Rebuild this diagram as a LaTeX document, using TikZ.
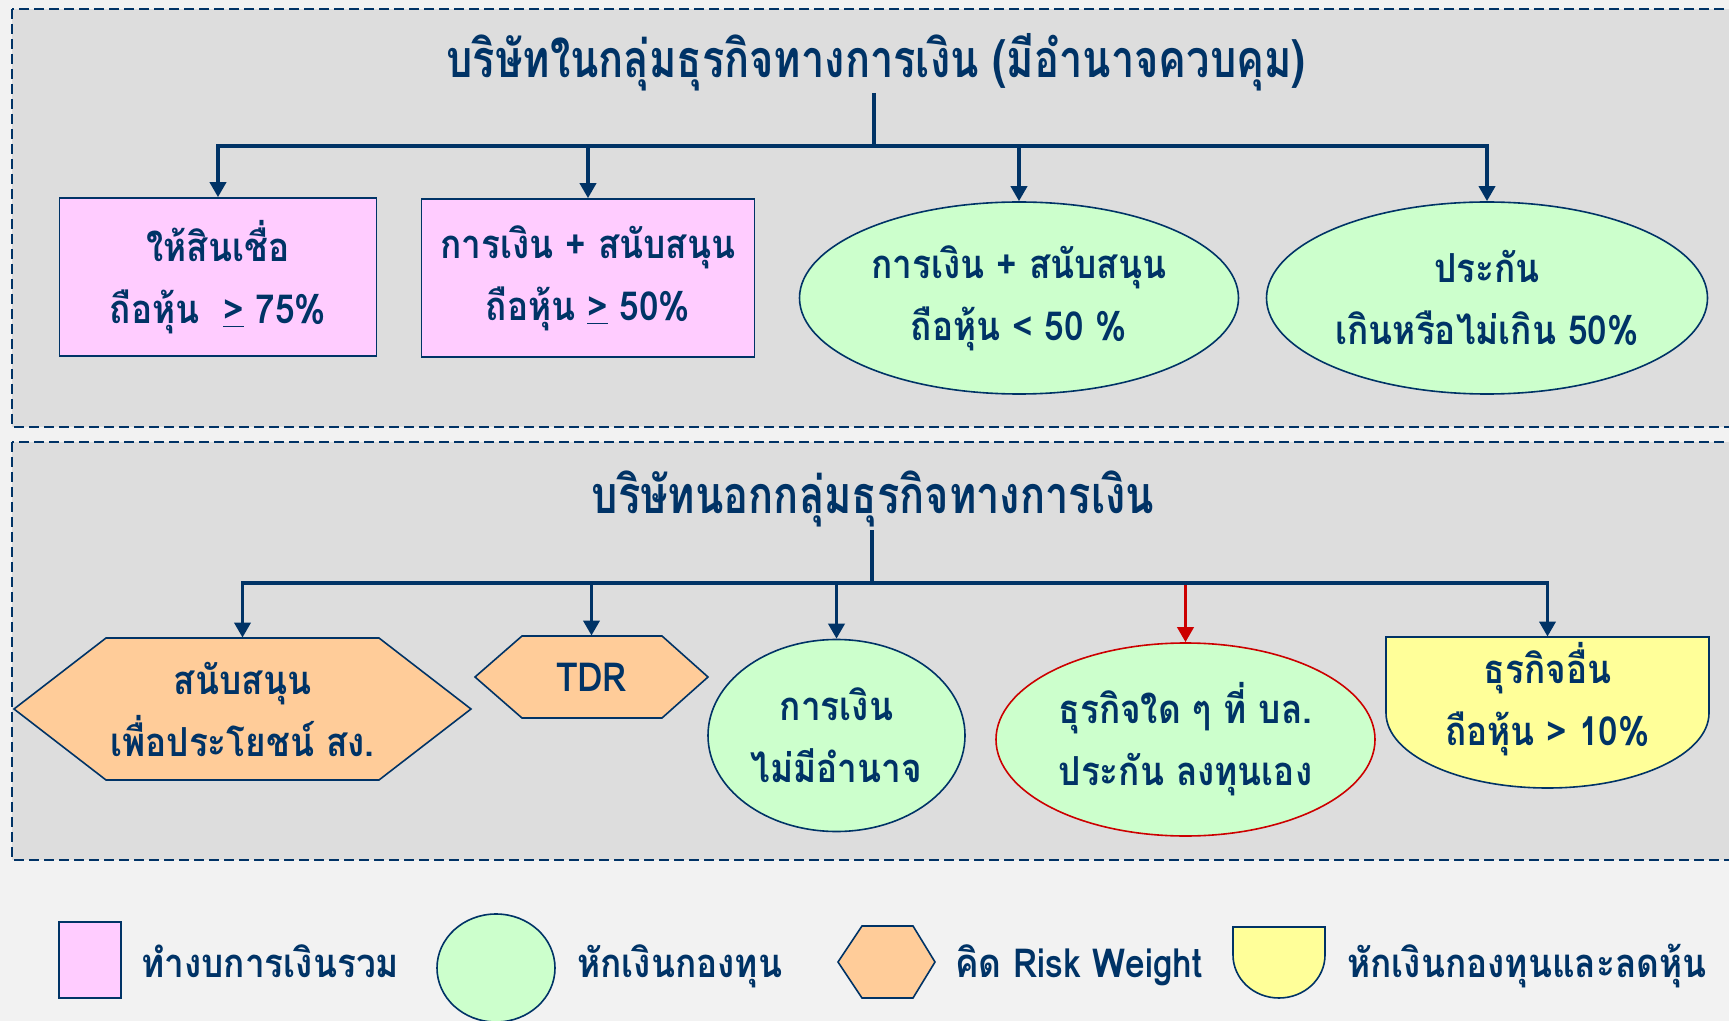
\documentclass[tikz,border=0pt]{standalone}
\usepackage{fontspec}
\setmainfont{Loma}[Script=Thai, FakeStretch=0.8]
\newfontfamily\nodefam{Loma}[Script=Thai, FakeStretch=0.88]
\usetikzlibrary{shapes.geometric, arrows.meta}
\definecolor{navy}{RGB}{0,51,102}
\definecolor{pinkc}{RGB}{255,204,255}
\definecolor{greenc}{RGB}{204,255,204}
\definecolor{orangec}{RGB}{255,204,153}
\definecolor{yellowc}{RGB}{255,255,153}
\definecolor{panelc}{RGB}{221,221,221}
\definecolor{bgc}{RGB}{242,242,242}
\definecolor{redc}{RGB}{204,0,0}
\newcommand\nfnt{\nodefam\fontsize{20}{31}\selectfont\bfseries}
\newcommand\tfnt{\fontsize{26}{32}\selectfont\bfseries}
\tikzset{
  conn/.style={draw=navy, line width=1.8pt, -{Triangle[length=7.5pt,width=8pt]}},
  trunk/.style={draw=navy, line width=1.8pt},
  shp/.style={draw=navy, line width=0.8pt},
  bx/.style={shp, fill=pinkc, rectangle, inner sep=0pt, align=center, text=navy, font=\nfnt},
  ell/.style={shp, fill=greenc, ellipse, inner sep=0pt, align=center, text=navy, font=\nfnt},
  lbl/.style={text=navy, inner sep=0pt, align=center, font=\nfnt},
  ttl/.style={text=navy, inner sep=0pt, font=\tfnt, anchor=base},
  panel/.style={draw=navy, line width=1pt, dash pattern=on 5pt off 2.5pt, fill=panelc},
}
\begin{document}
\begin{tikzpicture}[x=0.5pt, y=-0.5pt]
\useasboundingbox (0,0) rectangle (1729,1021);
\clip (0,0) rectangle (1729,1021);
\fill[bgc] (0,0) rectangle (1729,1021);
% panels
\draw[panel] (12,9) rectangle (1740,427);
\draw[panel] (12,442) rectangle (1740,860);

% ---------- top section ----------
\node[ttl] (t1) at (876,78) {บริษัทในกลุ่มธุรกิจทางการเงิน (มีอำนาจควบคุม)};
\coordinate (t1b) at (874,93);
\coordinate (j1) at (874,146);

\node[bx, minimum width=158.5pt, minimum height=79pt] (b1) at (218,277)
  {ให้สินเชื่อ\\ถือหุ้น\ \ \underline{>} 75\%};
\node[bx, minimum width=166.5pt, minimum height=79pt] (b2) at (588,278)
  {การเงิน + สนับสนุน\\ถือหุ้น \underline{>} 50\%};
\node[ell, minimum width=219.5pt, minimum height=96pt] (e3) at (1019,298)
  {การเงิน + สนับสนุน\\ถือหุ้น < 50 \%};
\node[ell, minimum width=220.5pt, minimum height=96pt] (e4) at (1487,298)
  {ประกัน\\เกินหรือไม่เกิน 50\%};

\draw[trunk] (t1b) -- (j1);
\draw[conn] (j1) -| (b1.north);
\draw[conn] (j1) -| (b2.north);
\draw[conn] (j1) -| (e3.north);
\draw[conn] (j1) -| (e4.north);

% ---------- bottom section ----------
\node[ttl] (t2) at (873,513) {บริษัทนอกกลุ่มธุรกิจทางการเงิน};
\coordinate (t2b) at (872,530);
\coordinate (j2) at (872,583);

\draw[shp, fill=orangec] (14,709) -- (106,638) -- (379,638) -- (471,709) -- (379,780) -- (106,780) -- cycle;
\node[lbl, minimum width=228.5pt, minimum height=71pt] (h1) at (242.5,709)
  {สนับสนุน\\เพื่อประโยชน์ สง.};
\draw[shp, fill=orangec] (475,677) -- (522,636) -- (662,636) -- (708,677) -- (662,718) -- (522,718) -- cycle;
\node[lbl, minimum width=116.5pt, minimum height=41pt] (h2) at (591.5,677) {TDR};
\node[ell, minimum width=128.5pt, minimum height=96pt] (e5) at (836.5,735.5)
  {การเงิน\\ไม่มีอำนาจ};
\node[ell, draw=redc, minimum width=189.5pt, minimum height=96.5pt] (e6) at (1185.5,739.5)
  {ธุรกิจใด ๆ ที่ บล.\\ประกัน ลงทุนเอง};
\draw[shp, fill=yellowc] (1386,637) -- (1709,637) -- (1709,713)
  arc[start angle=0, end angle=-180, x radius=80.75pt, y radius=37.5pt] -- cycle;
\node[lbl, minimum width=161.5pt, minimum height=38pt] (y1) at (1547.5,675) {};
\node[lbl] (y1t) at (1547.5,699) {ธุรกิจอื่น\\ถือหุ้น > 10\%};

\draw[trunk] (t2b) -- (j2);
\draw[conn, draw=redc] (j2) -| (e6.north);
\draw[conn] (j2) -| (h1.north);
\draw[conn] (j2) -| (h2.north);
\draw[conn] (j2) -| (e5.north);
\draw[conn] (j2) -| (y1.north);

% ---------- legend ----------
\node[shp, fill=pinkc, rectangle, minimum width=31pt, minimum height=38pt, inner sep=0pt] (lg1) at (90,960) {};
\node[lbl, anchor=base west] (lt1) at (141,977) {ทำงบการเงินรวม};
\node[shp, fill=greenc, ellipse, minimum width=59pt, minimum height=54pt, inner sep=0pt] (lg2) at (496,968) {};
\node[lbl, anchor=base west] (lt2) at (577,977) {หักเงินกองทุน};
\draw[shp, fill=orangec] (838,962) -- (862,926) -- (913,926) -- (935,962) -- (913,998) -- (862,998) -- cycle;
\node[inner sep=0pt, minimum width=48.5pt, minimum height=36pt] (lg3) at (886.5,962) {};
\node[lbl, anchor=base west] (lt3) at (955,977) {คิด Risk Weight};
\draw[shp, fill=yellowc] (1233,927) -- (1325,927) -- (1325,955)
  arc[start angle=0, end angle=-180, x radius=23pt, y radius=21.5pt] -- cycle;
\node[inner sep=0pt, minimum width=46pt, minimum height=35.5pt] (lg4) at (1279,962.5) {};
\node[lbl, anchor=base west] (lt4) at (1347,977) {หักเงินกองทุนและลดหุ้น};
\end{tikzpicture}
\end{document}
